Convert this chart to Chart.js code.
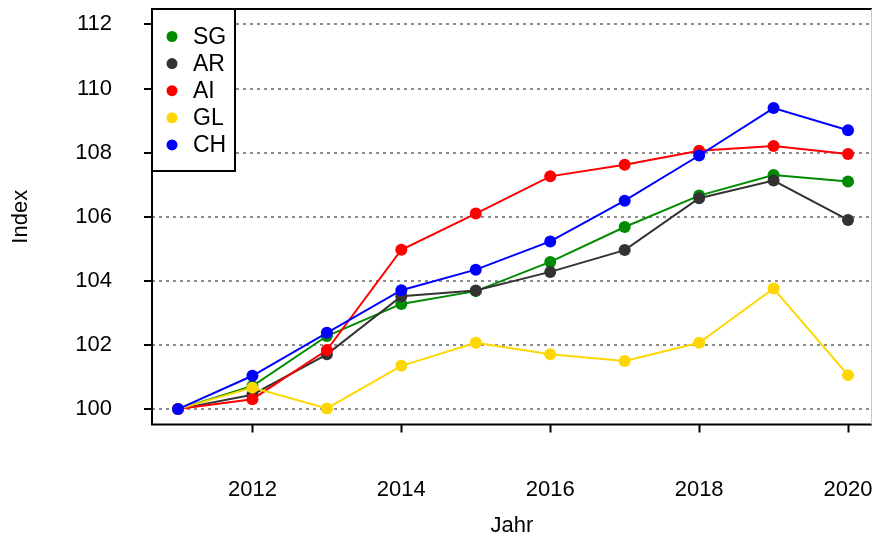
<!DOCTYPE html>
<html>
<head>
<meta charset="utf-8">
<script src="https://cdn.jsdelivr.net/npm/chart.js@4.4.1/dist/chart.umd.min.js"></script>
<style>
    html, body { margin: 0; padding: 0; background: #fff; }
</style>
</head>
<body>
<canvas id="index_graph" width="874" height="537"></canvas>
<script>
// data
const years = [2011, 2012, 2013, 2014, 2015, 2016, 2017, 2018, 2019, 2020];
const xTicks = [2012, 2014, 2016, 2018, 2020];
const yTicks = [100, 102, 104, 106, 108, 110, 112];
const seriesNames = ['SG', 'AR', 'AI', 'GL', 'CH'];
const seriesColors = ['#008b00', '#333333', '#ff0000', '#ffd700', '#0000ff'];
const sgValues = [100, 100.72, 102.28, 103.28, 103.68, 104.59, 105.68, 106.66, 107.30, 107.10];
const arValues = [100, 100.45, 101.71, 103.52, 103.70, 104.28, 104.96, 106.58, 107.13, 105.90];
const aiValues = [100, 100.31, 101.84, 104.97, 106.10, 107.26, 107.62, 108.06, 108.21, 107.96];
const glValues = [100, 100.67, 100.02, 101.35, 102.07, 101.71, 101.50, 102.07, 103.76, 101.06];
const chValues = [100, 101.04, 102.38, 103.71, 104.35, 105.23, 106.50, 107.91, 109.39, 108.70];
const seriesValues = [sgValues, arValues, aiValues, glValues, chValues];

const fontFamily = '"Liberation Sans", Arial, sans-serif';

// box around the plot plus the legend in the top left corner
const boxAndLegend = {
    id: 'boxAndLegend',
    afterDraw: function (chart) {
        const ctx = chart.ctx;
        const area = chart.chartArea;
        ctx.save();
        ctx.strokeStyle = '#000';
        ctx.lineWidth = 2;
        ctx.beginPath();
        ctx.moveTo(area.right, area.top);
        ctx.lineTo(area.left, area.top);
        ctx.lineTo(area.left, area.bottom);
        ctx.lineTo(area.right, area.bottom);
        ctx.stroke();
        ctx.strokeStyle = '#c8c8c8';
        ctx.lineWidth = 1;
        ctx.beginPath();
        ctx.moveTo(area.right - 0.5, area.top);
        ctx.lineTo(area.right - 0.5, area.bottom);
        ctx.stroke();

        const lx = area.left, ly = area.top, lw = 83, lh = 162;
        ctx.strokeStyle = '#000';
        ctx.lineWidth = 2;
        ctx.fillStyle = '#fff';
        ctx.fillRect(lx, ly, lw, lh);
        ctx.strokeRect(lx, ly, lw, lh);
        ctx.font = '23px ' + fontFamily;
        ctx.textBaseline = 'middle';
        ctx.textAlign = 'left';
        seriesNames.forEach(function (name, i) {
            const y = ly + 27.5 + i * 27.1;
            ctx.fillStyle = seriesColors[i];
            ctx.beginPath();
            ctx.arc(lx + 20, y, 5.5, 0, Math.PI * 2);
            ctx.fill();
            ctx.fillStyle = '#000';
            ctx.fillText(name, lx + 41, y + 1);
        });
        ctx.restore();
    }
};

new Chart(document.getElementById('index_graph'), {
    type: 'line',
    data: {
        datasets: seriesNames.map(function (name, i) {
            return {
                label: name,
                data: years.map(function (year, j) {
                    return { x: year, y: seriesValues[i][j] };
                }),
                borderColor: seriesColors[i],
                backgroundColor: seriesColors[i],
                borderWidth: 2,
                pointRadius: 6,
                pointBorderWidth: 0,
                tension: 0,
                order: seriesNames.length - i
            };
        })
    },
    options: {
        responsive: false,
        animation: false,
        devicePixelRatio: 1,
        layout: {
            autoPadding: false,
            padding: { top: 9, right: 2, bottom: 0, left: 0 }
        },
        plugins: {
            legend: { display: false },
            tooltip: { enabled: false }
        },
        scales: {
            x: {
                type: 'linear',
                min: 2010.651,
                max: 2020.322,
                afterFit: function (scale) {
                    scale.height = 112.5;
                    scale.paddingLeft = 0;
                    scale.paddingRight = 0;
                },
                afterBuildTicks: function (scale) {
                    scale.ticks = xTicks.map(function (v) { return { value: v }; });
                },
                border: { display: false },
                grid: {
                    drawOnChartArea: false,
                    tickLength: 8,
                    tickWidth: 2,
                    tickColor: '#000'
                },
                ticks: {
                    color: '#000',
                    padding: 44,
                    maxRotation: 0,
                    font: { family: fontFamily, size: 22 },
                    callback: function (v) { return String(v); }
                },
                title: {
                    display: true,
                    text: 'Jahr',
                    color: '#000',
                    padding: { top: 0, bottom: 0 },
                    font: { family: fontFamily, size: 22, lineHeight: 1 }
                }
            },
            y: {
                min: 99.52,
                max: 112.48,
                afterFit: function (scale) {
                    scale.width = 152;
                    scale.paddingTop = 0;
                    scale.paddingBottom = 0;
                },
                afterBuildTicks: function (scale) {
                    scale.ticks = yTicks.map(function (v) { return { value: v }; });
                },
                border: { display: false, dash: [3, 4] },
                grid: {
                    color: '#8c8c8c',
                    lineWidth: 2,
                    tickLength: 8,
                    tickWidth: 2,
                    tickColor: '#000',
                    tickBorderDash: [0, 0]
                },
                ticks: {
                    color: '#000',
                    padding: 32,
                    font: { family: fontFamily, size: 22 },
                    callback: function (v) { return String(v); }
                },
                title: {
                    display: true,
                    text: 'Index',
                    color: '#000',
                    padding: { top: 8, bottom: 0 },
                    font: { family: fontFamily, size: 22 }
                }
            }
        }
    },
    plugins: [boxAndLegend]
});
</script>
</body>
</html>
